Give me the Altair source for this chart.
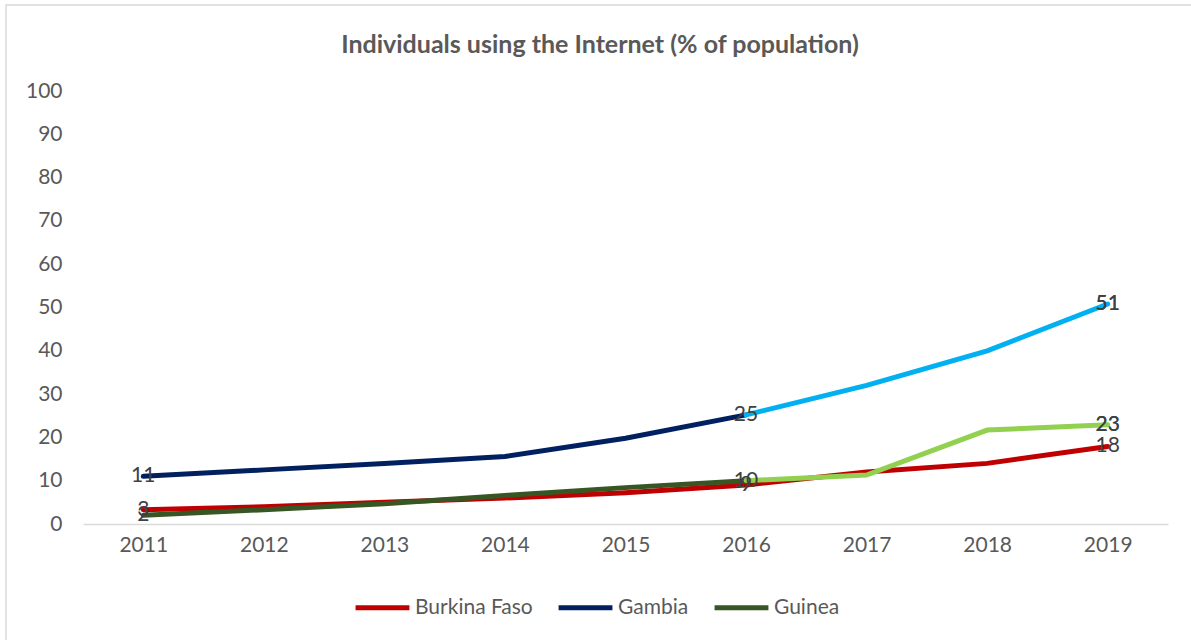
import altair as alt
import pandas as pd

years = ["2011", "2012", "2013", "2014", "2015", "2016", "2017", "2018", "2019"]
burkina = [3.3, 4.0, 5.0, 6.0, 7.2, 9.0, 12.0, 14.0, 17.9]
gambia = [11.0, 12.5, 14.0, 15.6, 19.8, 25.2, 32.0, 40.0, 50.8]
guinea = [2.0, 3.3, 4.7, 6.6, 8.4, 10.0, 11.3, 21.7, 22.9]
countries = ["Burkina Faso", "Gambia", "Guinea"]
dark_colors = ["#C00000", "#002060", "#375623"]
light_colors = {"Gambia": "#00B0F0", "Guinea": "#92D050"}
label_years = ["2011", "2016", "2019"]
split_year = "2016"
title_text = "Individuals using the Internet (% of population)"

FONT = "Lato"
FS = 21
series = {"Burkina Faso": burkina, "Gambia": gambia, "Guinea": guinea}

rows_dark, rows_light, rows_lab, rows_lab2 = [], [], [], []
split_idx = years.index(split_year)
for c in countries:
    vals = series[c]
    for i, (yr, v) in enumerate(zip(years, vals)):
        if c in light_colors:
            if i <= split_idx:
                rows_dark.append({"year": yr, "value": v, "country": c})
            if i >= split_idx:
                rows_light.append({"year": yr, "value": v, "country": c})
        else:
            rows_dark.append({"year": yr, "value": v, "country": c})
        if yr in label_years:
            rows_lab.append({"year": yr, "value": v, "label": str(round(v)), "country": c})
            if c in light_colors and yr == years[-1]:
                rows_lab2.append({"year": yr, "value": v, "label": str(round(v)), "country": c})

dark = pd.DataFrame(rows_dark)
light = pd.DataFrame(rows_light)
labs = pd.DataFrame(rows_lab)
labs2 = pd.DataFrame(rows_lab2)

W, H = 1085, 433

x_enc = alt.X("year:O", sort=years, scale=alt.Scale(type="point", padding=0.5),
              axis=alt.Axis(title=None, labelAngle=0, ticks=False, domainColor="#D9D9D9",
                            domainWidth=1.5, labelPadding=10, labelFontSize=FS,
                            labelColor="#595959", labelFont=FONT, grid=False))
y_enc = alt.Y("value:Q", scale=alt.Scale(domain=[0, 100], nice=False),
              axis=alt.Axis(title=None, values=list(range(0, 101, 10)), ticks=False, domain=False,
                            grid=False, labelPadding=21, labelFontSize=FS,
                            labelColor="#595959", labelFont=FONT))

base_dark = alt.Chart(dark).mark_line(strokeWidth=5, strokeCap="round").encode(
    x=x_enc, y=y_enc,
    color=alt.Color("country:N", sort=countries,
                    scale=alt.Scale(domain=countries, range=dark_colors),
                    legend=alt.Legend(title=None, orient="none", direction="horizontal",
                                      legendX=270, legendY=487, symbolType="stroke",
                                      symbolSize=2900, symbolStrokeWidth=5,
                                      labelFontSize=FS, labelColor="#595959", labelFont=FONT,
                                      labelOffset=3, columnPadding=15)),
)

light_layers = []
for c, col in light_colors.items():
    light_layers.append(
        alt.Chart(light[light["country"] == c]).mark_line(strokeWidth=5, strokeCap="round",
                                                          color=col).encode(
            x=alt.X("year:O", sort=years), y="value:Q")
    )

text = alt.Chart(labs).mark_text(fontSize=FS, font=FONT, color="#404040",
                                 baseline="middle", align="center").encode(
    x=alt.X("year:O", sort=years), y="value:Q", text="label:N")
text2 = alt.Chart(labs2).mark_text(fontSize=FS, font=FONT, color="#404040",
                                   baseline="middle", align="center").encode(
    x=alt.X("year:O", sort=years), y="value:Q", text="label:N")

one = pd.DataFrame({"t": [title_text]})
title = alt.Chart(one).mark_text(fontSize=25, font=FONT, fontWeight="bold", color="#595959",
                                 align="center", baseline="middle").encode(
    text="t:N", x=alt.value(517), y=alt.value(-46))

border = alt.Chart(pd.DataFrame({"a": [0]})).mark_rect(
    fill=None, stroke="#D9D9D9", strokeWidth=1.5).encode(
    x=alt.value(-77), x2=alt.value(W + 200), y=alt.value(-86), y2=alt.value(H + 200))

chart = alt.layer(border, base_dark, *light_layers, text, text2, title).properties(
    width=W, height=H,
    autosize=alt.AutoSizeParams(type="none"),
    padding={"left": 83, "top": 91, "right": 23, "bottom": 116},
).configure(background="white").configure_view(stroke=None)

chart.save("out.html", embed_options={"renderer": "svg", "actions": False})
